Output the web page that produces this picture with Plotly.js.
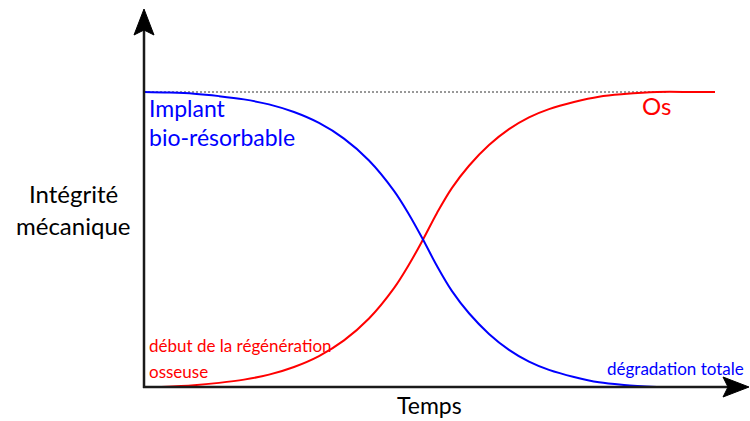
<!DOCTYPE html>
<html>
<head>
<meta charset="utf-8">
<script src="https://cdn.plot.ly/plotly-3.0.1.min.js"></script>
<style>html,body{margin:0;padding:0;background:#fff;}#chart{width:750px;height:421px;}</style>
</head>
<body>
<div id="chart"></div>
<script>
// Time axis (arbitrary units) and mechanical integrity (% of intact)
const implantTime = [0, 0.5, 1, 1.5, 2, 2.5, 3, 3.5, 4, 4.5, 5, 5.3, 5.58, 5.86, 6.16, 6.5, 6.9, 7.3, 7.7, 8.1, 8.6, 9.1, 9.6, 10.26];
const implantIntegrity = [100, 99.8, 99.4, 98.6, 97.5, 95.8, 93.2, 89.5, 84.2, 76.8, 66.5, 58.5, 50, 41.0, 32.5, 25.0, 18.0, 12.6, 8.6, 5.8, 3.4, 1.6, 0.7, 0];
const boneTime = [0.35, 1, 1.5, 2, 2.5, 3, 3.5, 4, 4.5, 5, 5.3, 5.58, 5.86, 6.16, 6.5, 6.9, 7.3, 7.7, 8.1, 8.6, 9.1, 9.6, 10.26, 11, 11.42];
const boneIntegrity = [0, 0.6, 1.4, 2.5, 4.2, 6.8, 10.5, 15.8, 23.2, 33.5, 41.5, 50, 59.0, 67.5, 75.0, 82.0, 87.4, 91.4, 94.2, 96.6, 98.4, 99.3, 100, 100, 100];
const refTime = [0, 10.48];
const refLevel = [100, 100];

const labels = {
  yTitle: ['Intégrité', 'mécanique'],
  xTitle: 'Temps',
  implant: ['Implant', 'bio-résorbable'],
  bone: 'Os',
  boneStart: ['début de la régénération', 'osseuse'],
  implantEnd: 'dégradation totale'
};

const W = 750, H = 421;
const L = 144, R = 2, T = 10, B = 34;
const pw = W - L - R, ph = H - T - B;
const px = x => (x - L) / pw;
const py = y => (H - B - y) / ph;

const FONT = 'Lato, "Open Sans", sans-serif';
const BLUE = '#0000ff', RED = '#ff0000', AX = '#1a1a1a';

const traces = [
  {x: refTime, y: refLevel, mode: 'lines', line: {color: '#333', width: 1, dash: '2px,2px'}, hoverinfo: 'skip'},
  {x: boneTime, y: boneIntegrity, mode: 'lines', line: {color: RED, width: 2, shape: 'spline', smoothing: 1}, name: 'Os'},
  {x: implantTime, y: implantIntegrity, mode: 'lines', line: {color: BLUE, width: 2, shape: 'spline', smoothing: 1}, name: 'Implant'}
];

function ann(text, x, y, size, color, xanchor) {
  return {text: text, x: px(x), y: py(y), xref: 'paper', yref: 'paper', showarrow: false,
    xanchor: xanchor || 'left', yanchor: 'middle', font: {family: FONT, size: size, color: color}};
}

const annotations = [
  ann(labels.yTitle[0], 73, 194, 24, '#000', 'center'),
  ann(labels.yTitle[1], 73, 225, 24, '#000', 'center'),
  ann(labels.xTitle, 429, 405, 23, '#000', 'center'),
  ann(labels.implant[0], 147, 108, 23, BLUE),
  ann(labels.implant[1], 147, 137, 23, BLUE),
  ann(labels.bone, 656, 106, 24, RED, 'center'),
  ann(labels.boneStart[0], 147, 345, 17, RED),
  ann(labels.boneStart[1], 147, 371, 17, RED),
  ann(labels.implantEnd, 746, 368, 17, BLUE, 'right')
];

const shapes = [
  // y axis line and arrow
  {type: 'line', xref: 'paper', yref: 'paper', x0: px(144), y0: py(388), x1: px(144), y1: py(28), line: {color: AX, width: 2.5}},
  {type: 'path', xref: 'paper', yref: 'paper',
   path: `M ${px(144)} ${py(9)} L ${px(154)} ${py(35)} L ${px(144)} ${py(30)} L ${px(134)} ${py(35)} Z`,
   fillcolor: '#000', line: {color: '#000', width: 1}},
  // x axis line and arrow
  {type: 'line', xref: 'paper', yref: 'paper', x0: px(143), y0: py(387), x1: px(730), y1: py(387), line: {color: AX, width: 2.5}},
  {type: 'path', xref: 'paper', yref: 'paper',
   path: `M ${px(749)} ${py(387)} L ${px(723)} ${py(377)} L ${px(728)} ${py(387)} L ${px(723)} ${py(397)} Z`,
   fillcolor: '#000', line: {color: '#000', width: 1}}
];

const layout = {
  width: W, height: H,
  margin: {l: L, r: R, t: T, b: B, pad: 0},
  paper_bgcolor: '#fff', plot_bgcolor: '#fff',
  showlegend: false,
  xaxis: {range: [0, pw / 50], showgrid: false, zeroline: false, showline: false, showticklabels: false, ticks: '', fixedrange: true},
  yaxis: {range: [0, ph / 2.95], showgrid: false, zeroline: false, showline: false, showticklabels: false, ticks: '', fixedrange: true},
  annotations: annotations,
  shapes: shapes
};

Plotly.newPlot('chart', traces, layout, {displayModeBar: false, staticPlot: true});
</script>
</body>
</html>
